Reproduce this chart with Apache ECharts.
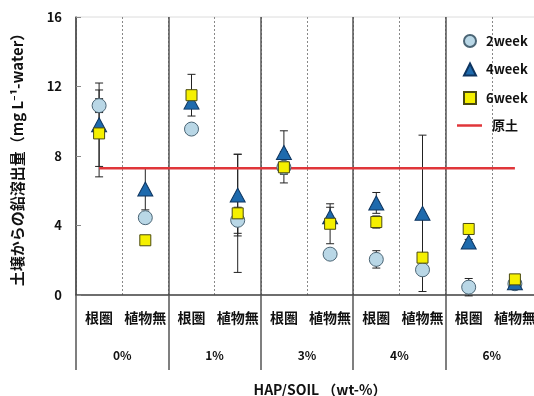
<!DOCTYPE html>
<html>
<head>
<meta charset="utf-8">
<script src="https://cdn.jsdelivr.net/npm/echarts@6/dist/echarts.min.js"></script>
<style>
html,body{margin:0;padding:0;background:#fff;}
#chart{width:534px;height:396px;}
</style>
</head>
<body>
<div id="chart"></div>
<script>
// ---- data ----
const categories = ['根圏','植物無','根圏','植物無','根圏','植物無','根圏','植物無','根圏','植物無'];
const groups = ['0%','1%','3%','4%','6%'];
const week2 = [10.9, 4.45, 9.55, 4.3, 7.35, 2.35, 2.05, 1.45, 0.45, 0.65];
const week2Err = [0.4, 0.2, 0.3, 0.75, 0.3, 0.3, 0.5, 0.3, 0.5, 0.05];
const week4 = [9.8, 6.1, 11.1, 5.75, 8.2, 4.5, 5.3, 4.7, 3.05, 0.7];
const week4Err = [2.4, 1.2, 0.3, 2.35, 1.25, 0.55, 0.6, 4.5, 0.15, 0.05];
const week6 = [9.3, 3.15, 11.5, 4.7, 7.35, 4.1, 4.2, 2.15, 3.8, 0.9];
const week6Err = [2.5, 0.1, 1.2, 3.4, 0.9, 1.15, 0.35, 0.2, 0.1, 0.05];
const originalSoil = [7.3, 7.3, 7.3, 7.3, 7.3, 7.3, 7.3, 7.3, 7.3, 7.3];
const yTicks = [0, 4, 8, 12, 16];

const FONT = '"Noto Sans CJK JP", "Noto Sans", sans-serif';

function errData(vals, errs) {
  return vals.map((v, i) => [i, v - errs[i], v + errs[i]]);
}
function errSeries(name, vals, errs) {
  return {
    type: 'custom',
    name: name + 'err',
    xAxisIndex: 0,
    z: 1,
    silent: true,
    encode: {x: 0, y: [1, 2]},
    data: errData(vals, errs),
    renderItem: function (params, api) {
      const lo = api.coord([api.value(0), api.value(1)]);
      const hi = api.coord([api.value(0), api.value(2)]);
      const w = 4;
      const st = {stroke: '#222', lineWidth: 1};
      return {
        type: 'group',
        children: [
          {type: 'line', shape: {x1: lo[0], y1: lo[1], x2: hi[0], y2: hi[1]}, style: st},
          {type: 'line', shape: {x1: lo[0] - w, y1: lo[1], x2: lo[0] + w, y2: lo[1]}, style: st},
          {type: 'line', shape: {x1: hi[0] - w, y1: hi[1], x2: hi[0] + w, y2: hi[1]}, style: st}
        ]
      };
    }
  };
}

const legendText = {fontFamily: FONT, fontWeight: 'bold', fontSize: 13, color: '#111', padding: [0, 0, 0, 5]};

const chart = echarts.init(document.getElementById('chart'));
chart.setOption({
  animation: false,
  backgroundColor: '#fff',
  textStyle: {fontFamily: FONT},
  grid: {
    left: 76, top: 17, width: 462, height: 278,
    show: true, borderColor: '#dcdcdc', borderWidth: 1,
    outerBoundsMode: 'none', containLabel: false
  },
  legend: [
    {
      data: ['2week', '4week', '6week'],
      orient: 'vertical', left: 458, top: 29,
      itemWidth: 12, itemHeight: 12, itemGap: 14.5,
      textStyle: legendText
    },
    {
      data: [{name: '原土', icon: 'rect', itemStyle: {color: '#e0363a', borderWidth: 0}}],
      orient: 'vertical', left: 452, top: 114,
      itemWidth: 25, itemHeight: 2.5,
      textStyle: legendText
    }
  ],
  xAxis: [
    {
      type: 'category', data: categories, boundaryGap: true, position: 'bottom',
      axisLine: {show: true, lineStyle: {color: '#444', width: 1.5}},
      axisTick: {show: false},
      axisLabel: {interval: 0, margin: 16, fontFamily: FONT, fontWeight: 'bold', fontSize: 14, color: '#111'},
      splitLine: {show: true, interval: 0, lineStyle: {color: '#888', type: [2, 2], width: 1}}
    },
    {
      type: 'category', data: groups, boundaryGap: true, position: 'bottom',
      axisLine: {show: false},
      axisTick: {show: true, interval: 0, length: 75, lineStyle: {color: '#555', width: 1.5}},
      axisLabel: {interval: 0, margin: 54, fontFamily: FONT, fontWeight: 'bold', fontSize: 12, color: '#111'},
      splitLine: {show: true, interval: 0, lineStyle: {color: '#555', width: 1.5}},
      name: 'HAP/SOIL （wt-%）', nameLocation: 'middle', nameGap: 88,
      nameTextStyle: {fontFamily: FONT, fontWeight: 'bold', fontSize: 14, color: '#111', padding: [0, 0, 0, 26]}
    }
  ],
  yAxis: {
    type: 'value', min: 0, max: 16, interval: 4,
    axisLine: {show: true, lineStyle: {color: '#555', width: 1.5}},
    axisTick: {show: true, inside: true, length: 5, lineStyle: {color: '#888'}},
    splitLine: {show: false},
    axisLabel: {
      margin: 14, fontFamily: FONT, fontWeight: 'bold', fontSize: 13, color: '#111',
      formatter: v => yTicks.indexOf(v) >= 0 ? String(v) : ''
    },
    name: '土壌からの鉛溶出量（mg L⁻¹-water）', nameLocation: 'middle', nameGap: 51, nameRotate: 90,
    nameTextStyle: {fontFamily: FONT, fontWeight: 'bold', fontSize: 15, color: '#111'}
  },
  series: [
    {
      type: 'line', name: '原土', data: originalSoil, symbol: 'none', z: 2,
      lineStyle: {color: '#e0363a', width: 2.5}, itemStyle: {color: '#e0363a'}
    },
    errSeries('2week', week2, week2Err),
    errSeries('4week', week4, week4Err),
    errSeries('6week', week6, week6Err),
    {
      type: 'scatter', name: '2week', data: week2, symbol: 'circle', symbolSize: 14, z: 3,
      itemStyle: {color: '#b9d7e6', borderColor: '#4b6575', borderWidth: 1, opacity: 1}
    },
    {
      type: 'scatter', name: '4week', data: week4, symbol: 'triangle', symbolSize: [15, 14], z: 4,
      itemStyle: {color: '#1e6aad', borderColor: '#0e3560', borderWidth: 1, opacity: 1}
    },
    {
      type: 'scatter', name: '6week', data: week6, symbol: 'rect', symbolSize: 11, z: 5,
      itemStyle: {color: '#f5f000', borderColor: '#4a4a10', borderWidth: 1, opacity: 1}
    }
  ]
});
</script>
</body>
</html>
